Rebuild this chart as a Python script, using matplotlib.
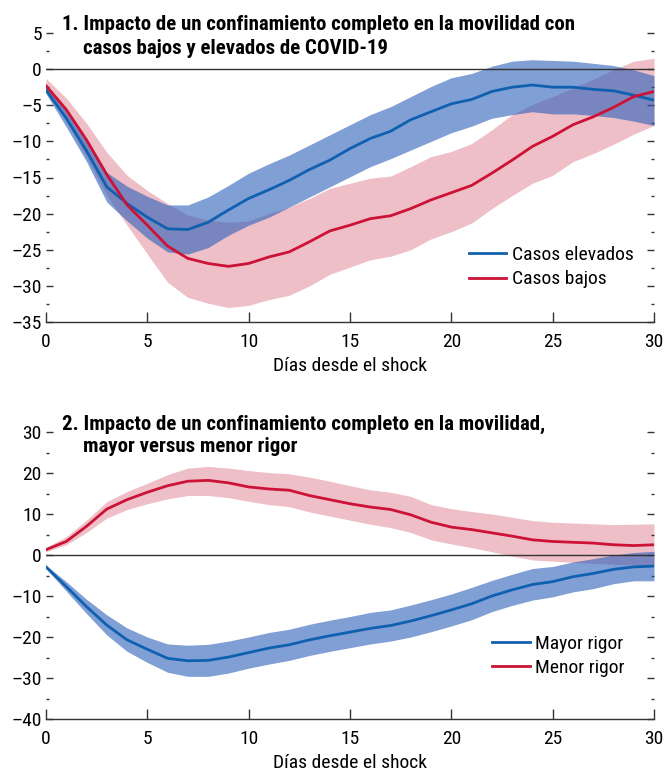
import matplotlib
matplotlib.use("Agg")
import matplotlib.pyplot as plt
import numpy as np
from matplotlib.ticker import MultipleLocator, FuncFormatter

plt.rcParams['font.family'] = ['Roboto Condensed', 'Archivo Narrow', 'PT Sans Narrow',
                               'Liberation Sans Narrow', 'DejaVu Sans']

days = list(range(31))

# Panel 1
elev_mean = [-2.9, -6.8, -11.3, -16.3, -18.6, -20.5, -22.1, -22.2, -21.2, -19.5, -17.9,
             -16.7, -15.4, -13.9, -12.6, -11.0, -9.6, -8.6, -7.0, -5.9, -4.8,
             -4.2, -3.1, -2.5, -2.2, -2.5, -2.5, -2.8, -3.0, -3.6, -4.3]
elev_up = [-2.4, -5.6, -9.8, -14.3, -16.2, -17.6, -18.8, -18.8, -17.7, -16.1, -14.4,
           -13.1, -11.9, -10.5, -9.1, -7.7, -6.3, -5.2, -3.8, -2.4, -1.2,
           -0.6, 0.4, 1.1, 1.3, 1.2, 1.1, 0.8, 0.5, -0.1, -0.9]
elev_lo = [-3.4, -8.0, -12.8, -18.4, -21.0, -23.4, -25.3, -25.6, -24.7, -23.0, -21.6,
           -20.5, -19.1, -17.7, -16.3, -14.9, -13.5, -12.4, -11.2, -10.0, -8.8,
           -7.9, -6.8, -6.3, -5.9, -6.2, -6.2, -6.4, -6.7, -7.2, -7.8]

bajos_mean = [-2.3, -5.6, -9.8, -14.6, -18.8, -21.6, -24.5, -26.2, -26.9, -27.3, -26.9,
              -26.0, -25.3, -23.9, -22.4, -21.6, -20.7, -20.3, -19.3, -18.1, -17.1,
              -16.1, -14.4, -12.6, -10.7, -9.3, -7.7, -6.6, -5.3, -3.8, -3.1]
bajos_up = [-1.3, -4.0, -7.5, -11.5, -14.7, -16.8, -18.6, -20.2, -20.9, -21.2, -21.0,
            -20.0, -19.1, -17.9, -16.5, -15.8, -15.1, -14.8, -13.5, -12.1, -11.4,
            -10.3, -8.4, -6.3, -4.9, -3.8, -2.6, -1.4, -0.1, 1.1, 1.5]
bajos_lo = [-3.0, -7.2, -12.2, -17.5, -21.6, -25.6, -29.5, -31.6, -32.4, -33.0, -32.7,
            -31.9, -31.3, -30.0, -28.4, -27.4, -26.4, -25.9, -25.0, -23.5, -22.5,
            -21.3, -19.3, -17.5, -15.8, -14.7, -12.8, -11.7, -10.4, -9.0, -7.8]

# Panel 2
mayor_mean = [-2.9, -7.7, -12.6, -17.1, -20.7, -23.0, -25.2, -25.8, -25.7, -24.9, -23.8,
              -22.7, -21.9, -20.7, -19.7, -18.8, -17.9, -17.2, -16.1, -14.8, -13.4,
              -11.9, -10.0, -8.5, -7.2, -6.5, -5.3, -4.5, -3.5, -2.9, -2.7]
mayor_up = [-2.5, -6.5, -10.8, -14.6, -17.8, -20.0, -21.7, -22.0, -21.8, -21.0, -20.0,
            -18.9, -18.1, -16.9, -15.9, -15.0, -14.0, -13.4, -12.2, -10.9, -9.5,
            -7.9, -6.2, -4.7, -3.3, -2.8, -1.7, -0.9, 0.0, 0.6, 0.9]
mayor_lo = [-3.3, -8.8, -14.3, -19.5, -23.5, -26.2, -28.6, -29.6, -29.6, -28.8, -27.6,
            -26.6, -25.7, -24.5, -23.5, -22.6, -21.7, -21.0, -20.0, -18.7, -17.3,
            -15.8, -13.8, -12.3, -11.0, -10.2, -9.0, -8.2, -7.0, -6.3, -6.3]

menor_mean = [1.3, 3.3, 7.0, 11.2, 13.5, 15.3, 16.9, 18.0, 18.2, 17.6, 16.6,
              16.1, 15.8, 14.5, 13.5, 12.5, 11.7, 11.1, 9.8, 8.0, 6.8,
              6.2, 5.4, 4.6, 3.7, 3.3, 3.1, 2.9, 2.5, 2.3, 2.5]
menor_up = [1.8, 4.5, 8.5, 13.0, 15.5, 17.5, 19.6, 21.2, 21.6, 21.2, 20.6,
            20.1, 19.8, 19.0, 18.0, 16.9, 15.9, 15.3, 14.3, 12.3, 11.3,
            10.6, 10.0, 9.2, 8.4, 8.0, 7.8, 7.6, 7.4, 7.5, 7.6]
menor_lo = [0.8, 2.5, 5.5, 9.0, 11.1, 12.5, 13.7, 14.5, 14.5, 14.0, 13.1,
            12.3, 11.8, 10.5, 9.5, 8.5, 7.5, 6.7, 5.5, 3.7, 2.7,
            1.8, 0.8, -0.3, -1.2, -1.5, -1.8, -2.0, -2.3, -2.4, -2.5]

BLUE = '#1060b0'
BLUE_BAND = '#2b5fb8'
RED = '#cc1236'
PINK_BAND = '#efbfc8'

W, H = 665, 771
fig = plt.figure(figsize=(W / 100, H / 100), dpi=100)

def px_axes(x0, x1, ytop, ybot):
    return fig.add_axes([x0 / W, 1 - ybot / H, (x1 - x0) / W, (ybot - ytop) / H])

ax1 = px_axes(46, 654, 33, 322)
ax2 = px_axes(46, 654, 432, 719)

FS = 14
TFS = 15

dash_fmt = FuncFormatter(lambda v, p: ('\u2013' + f'{abs(v):g}') if v < 0 else f'{v:g}')

def style(ax, ylo, yhi, major, minor):
    ax.set_xlim(0, 30)
    ax.set_ylim(ylo, yhi)
    for s in ['top', 'left', 'right']:
        ax.spines[s].set_visible(False)
    ax.spines['bottom'].set_linewidth(1.0)
    ax.spines['bottom'].set_color('#333333')
    ax.xaxis.set_major_locator(MultipleLocator(5))
    ax.yaxis.set_major_locator(MultipleLocator(major))
    ax.yaxis.set_minor_locator(MultipleLocator(minor))
    ax.yaxis.set_major_formatter(dash_fmt)
    ax.tick_params(axis='x', direction='in', length=7, width=1, labelsize=FS, pad=8,
                   color='#333333')
    ax.tick_params(axis='y', which='major', left=True, right=True, direction='in',
                   length=5, width=1, labelsize=FS, pad=3, color='#333333')
    ax.tick_params(axis='y', which='minor', left=True, right=True, direction='in',
                   length=2, width=1, color='#333333')
    ax.axhline(0, color='#333333', lw=1.0, zorder=3)
    ax.set_xlabel('Días desde el shock', fontsize=FS, labelpad=4)

style(ax1, -35, 5, 5, 2.5)
style(ax2, -40, 30, 10, 5)

# Panel 1
ax1.fill_between(days, bajos_lo, bajos_up, color=PINK_BAND, lw=0, zorder=1)
ax1.fill_between(days, elev_lo, elev_up, color=BLUE_BAND, alpha=0.6, lw=0, zorder=2)
ax1.plot(days, elev_mean, color=BLUE, lw=2.0, zorder=4, label='Casos elevados')
ax1.plot(days, bajos_mean, color=RED, lw=2.0, zorder=4, label='Casos bajos')
ax1.legend(loc='upper left', bbox_to_anchor=(0.679, 0.298), frameon=False, fontsize=FS,
           handlelength=1.95, handletextpad=0.3, labelspacing=0.35, borderpad=0)
ax1.text(0.78, 6.2, '1. Impacto de un confinamiento completo en la movilidad con',
         fontsize=TFS, fontweight='bold', va='center', ha='left', clip_on=False)
ax1.text(1.83, 2.9, 'casos bajos y elevados de COVID-19',
         fontsize=TFS, fontweight='bold', va='center', ha='left', clip_on=False)

# Panel 2
ax2.fill_between(days, menor_lo, menor_up, color=PINK_BAND, lw=0, zorder=1)
ax2.fill_between(days, mayor_lo, mayor_up, color=BLUE_BAND, alpha=0.6, lw=0, zorder=2)
ax2.plot(days, mayor_mean, color=BLUE, lw=2.0, zorder=4, label='Mayor rigor')
ax2.plot(days, menor_mean, color=RED, lw=2.0, zorder=4, label='Menor rigor')
ax2.legend(loc='upper left', bbox_to_anchor=(0.717, 0.3275), frameon=False, fontsize=FS,
           handlelength=1.95, handletextpad=0.3, labelspacing=0.3, borderpad=0)
ax2.text(0.78, 31.8, '2. Impacto de un confinamiento completo en la movilidad,',
         fontsize=TFS, fontweight='bold', va='center', ha='left', clip_on=False)
ax2.text(1.83, 26.5, 'mayor versus menor rigor',
         fontsize=TFS, fontweight='bold', va='center', ha='left', clip_on=False)

fig.savefig('out.png', dpi=100)
